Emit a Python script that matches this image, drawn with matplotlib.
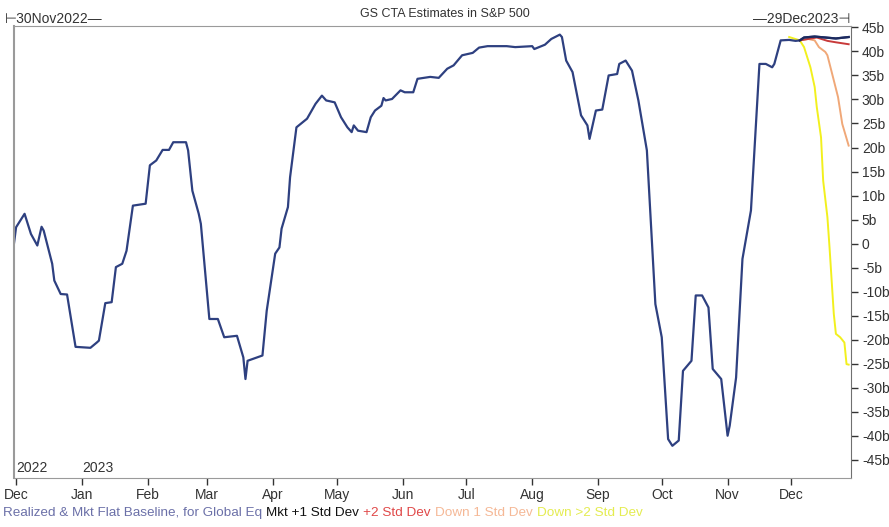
import matplotlib.pyplot as plt
import matplotlib.dates as mdates
import numpy as np
import pandas as pd

plt.rcParams['font.family'] = ['Liberation Sans', 'DejaVu Sans']

# realized & mkt flat baseline (bn USD)
base_dates = ['2022-11-30', '2022-12-01', '2022-12-05', '2022-12-08', '2022-12-11', '2022-12-13',
              '2022-12-14', '2022-12-18', '2022-12-19', '2022-12-22', '2022-12-25', '2022-12-29',
              '2023-01-05', '2023-01-08', '2023-01-09', '2023-01-12', '2023-01-15', '2023-01-17',
              '2023-01-20', '2023-01-22', '2023-01-25', '2023-01-31', '2023-02-02', '2023-02-05',
              '2023-02-08', '2023-02-11', '2023-02-13', '2023-02-19', '2023-02-20', '2023-02-22',
              '2023-02-25', '2023-02-26', '2023-03-02', '2023-03-06', '2023-03-09', '2023-03-15',
              '2023-03-18', '2023-03-19', '2023-03-20', '2023-03-27', '2023-03-29', '2023-04-02',
              '2023-04-04', '2023-04-05', '2023-04-08', '2023-04-09', '2023-04-12', '2023-04-17',
              '2023-04-21', '2023-04-24', '2023-04-26', '2023-04-30', '2023-05-03', '2023-05-06',
              '2023-05-08', '2023-05-09', '2023-05-11', '2023-05-15', '2023-05-17', '2023-05-19',
              '2023-05-22', '2023-05-23', '2023-05-24', '2023-05-27', '2023-05-31', '2023-06-02',
              '2023-06-06', '2023-06-08', '2023-06-14', '2023-06-18', '2023-06-22', '2023-06-25',
              '2023-06-29', '2023-07-04', '2023-07-07', '2023-07-11', '2023-07-20', '2023-07-24',
              '2023-08-01', '2023-08-02', '2023-08-07', '2023-08-10', '2023-08-14', '2023-08-15',
              '2023-08-17', '2023-08-20', '2023-08-24', '2023-08-27', '2023-08-28', '2023-08-31',
              '2023-09-03', '2023-09-06', '2023-09-10', '2023-09-11', '2023-09-14', '2023-09-17',
              '2023-09-20', '2023-09-22', '2023-09-24', '2023-09-28', '2023-10-01', '2023-10-04',
              '2023-10-06', '2023-10-09', '2023-10-11', '2023-10-15', '2023-10-17', '2023-10-20',
              '2023-10-23', '2023-10-25', '2023-10-29', '2023-11-01', '2023-11-02', '2023-11-05',
              '2023-11-08', '2023-11-12', '2023-11-14', '2023-11-16', '2023-11-19', '2023-11-22',
              '2023-11-23', '2023-11-26', '2023-11-30', '2023-12-03', '2023-12-05', '2023-12-07',
              '2023-12-12', '2023-12-17', '2023-12-22', '2023-12-28']
base_vals = [0, 3.4, 6.2, 2.0, -0.4, 3.5,
             2.7, -4.2, -7.7, -10.5, -10.6, -21.5,
             -21.7, -20.6, -20.2, -12.4, -12.2, -4.9,
             -4.2, -1.5, 7.9, 8.3, 16.3, 17.3,
             19.5, 19.5, 21.1, 21.1, 19.4, 11.0,
             6.2, 4.1, -15.7, -15.7, -19.5, -19.2,
             -23.7, -28.2, -24.4, -23.3, -14.0, -2.1,
             -0.8, 3.1, 7.6, 13.8, 24.2, 26.0,
             29.1, 30.8, 29.8, 29.4, 26.3, 24.2,
             23.2, 24.6, 23.5, 23.2, 26.3, 27.7,
             28.7, 30.3, 29.8, 30.1, 31.9, 31.5,
             31.5, 34.3, 34.7, 34.5, 36.4, 37.1,
             39.2, 39.7, 40.8, 41.1, 41.1, 40.9,
             41.1, 40.5, 41.4, 42.6, 43.5, 43.0,
             38.1, 35.7, 26.7, 24.6, 21.8, 27.7,
             27.9, 35.0, 35.3, 37.4, 38.1, 36.0,
             29.8, 24.6, 19.4, -12.6, -19.5, -40.7,
             -42.1, -41.0, -26.5, -24.4, -10.8, -10.8,
             -13.3, -26.1, -28.2, -40.0, -37.9, -27.9,
             -3.2, 6.9, 22.1, 37.4, 37.4, 36.7,
             37.4, 42.3, 42.4, 42.2, 42.3, 42.9,
             43.1, 42.9, 42.7, 43.0]

# scenario paths for December 2023
up1_dates = ['2023-12-05', '2023-12-07', '2023-12-12', '2023-12-17', '2023-12-22', '2023-12-28']
up1_vals = [42.3, 42.9, 43.1, 42.9, 42.7, 43.0]

up2_dates = ['2023-12-05', '2023-12-09', '2023-12-13', '2023-12-18', '2023-12-22', '2023-12-28']
up2_vals = [42.3, 42.6, 42.9, 42.2, 41.9, 41.5]

down1_dates = ['2023-12-05', '2023-12-09', '2023-12-12', '2023-12-14', '2023-12-17', '2023-12-18',
               '2023-12-21', '2023-12-23', '2023-12-25', '2023-12-28']
down1_vals = [42.3, 42.6, 42.3, 40.9, 39.9, 39.2, 34.0, 30.5, 24.9, 20.4]

down2_dates = ['2023-11-30', '2023-12-05', '2023-12-07', '2023-12-10', '2023-12-12', '2023-12-13',
               '2023-12-15', '2023-12-16', '2023-12-18', '2023-12-19', '2023-12-20', '2023-12-21',
               '2023-12-22', '2023-12-24', '2023-12-26', '2023-12-27', '2023-12-28']
down2_vals = [43.0, 42.3, 40.9, 36.7, 32.6, 28.4, 22.1, 13.1, 5.5, -0.8, -7.7, -14.6,
              -18.8, -19.5, -20.6, -25.1, -25.2]

yticks = np.arange(-45, 50, 5)
ytick_labels = ['0' if v == 0 else f'{v}b' for v in yticks]

legend_items = ['Realized & Mkt Flat Baseline, for Global Eq', 'Mkt +1 Std Dev', '+2 Std Dev',
                'Down 1 Std Dev', 'Down >2 Std Dev']
legend_colors = ['#6b70a8', '#111111', '#e04848', '#f5b896', '#e4ec50']

fig = plt.figure(figsize=(8.89, 5.27), dpi=100)
ax = fig.add_axes([0.0157, 0.093, 0.9413, 0.8577])

ax.plot(pd.to_datetime(down2_dates), down2_vals, color='#f2f01e', lw=1.4)
ax.plot(pd.to_datetime(down1_dates), down1_vals, color='#f0a878', lw=1.4)
ax.plot(pd.to_datetime(up2_dates), up2_vals, color='#c83a3a', lw=1.4)
ax.plot(pd.to_datetime(base_dates), base_vals, color='#2e4080', lw=1.6)
ax.plot(pd.to_datetime(up1_dates), up1_vals, color='#1c2a5e', lw=1.6)

ax.set_xlim(pd.Timestamp('2022-11-30'), pd.Timestamp('2023-12-29'))
ax.set_ylim(-48.8, 45.3)

ax.yaxis.tick_right()
ax.set_yticks(yticks)
ax.set_yticklabels(ytick_labels)
ax.xaxis.set_major_locator(mdates.MonthLocator())
ax.xaxis.set_major_formatter(mdates.DateFormatter('%b'))
ax.tick_params(axis='both', labelsize=10, colors='#333333', length=5, width=1, pad=2)
ax.tick_params(axis='y', pad=3)

for side in ['top', 'left', 'bottom']:
    ax.spines[side].set_color('#9a9a9a')
ax.spines['right'].set_color('#707070')
ax.spines['left'].set_linewidth(1.5)

ax.text(pd.Timestamp('2022-12-01'), -47.5, '2022', fontsize=10, color='#333333')
ax.text(pd.Timestamp('2023-01-01'), -47.5, '2023', fontsize=10, color='#333333')

fig.text(0.5, 0.985, 'GS CTA Estimates in S&P 500', ha='center', va='top', fontsize=9,
         color='#333333')
fig.text(0.005, 0.964, '\u22a230Nov2022\u2014', ha='left', va='center', fontsize=10,
         color='#333333')
fig.text(0.957, 0.964, '\u201429Dec2023\u22a3', ha='right', va='center', fontsize=10,
         color='#333333')

# legend: a run of coloured labels under the axis
prev = fig.text(0.003, 0.027, legend_items[0], color=legend_colors[0], fontsize=9.7,
                va='center')
for label, col in zip(legend_items[1:], legend_colors[1:]):
    prev = ax.annotate(label, xy=(1, 0.5), xycoords=prev, xytext=(3, 0),
                       textcoords='offset points', va='center', ha='left',
                       color=col, fontsize=9.7)

fig.savefig('out.png')
